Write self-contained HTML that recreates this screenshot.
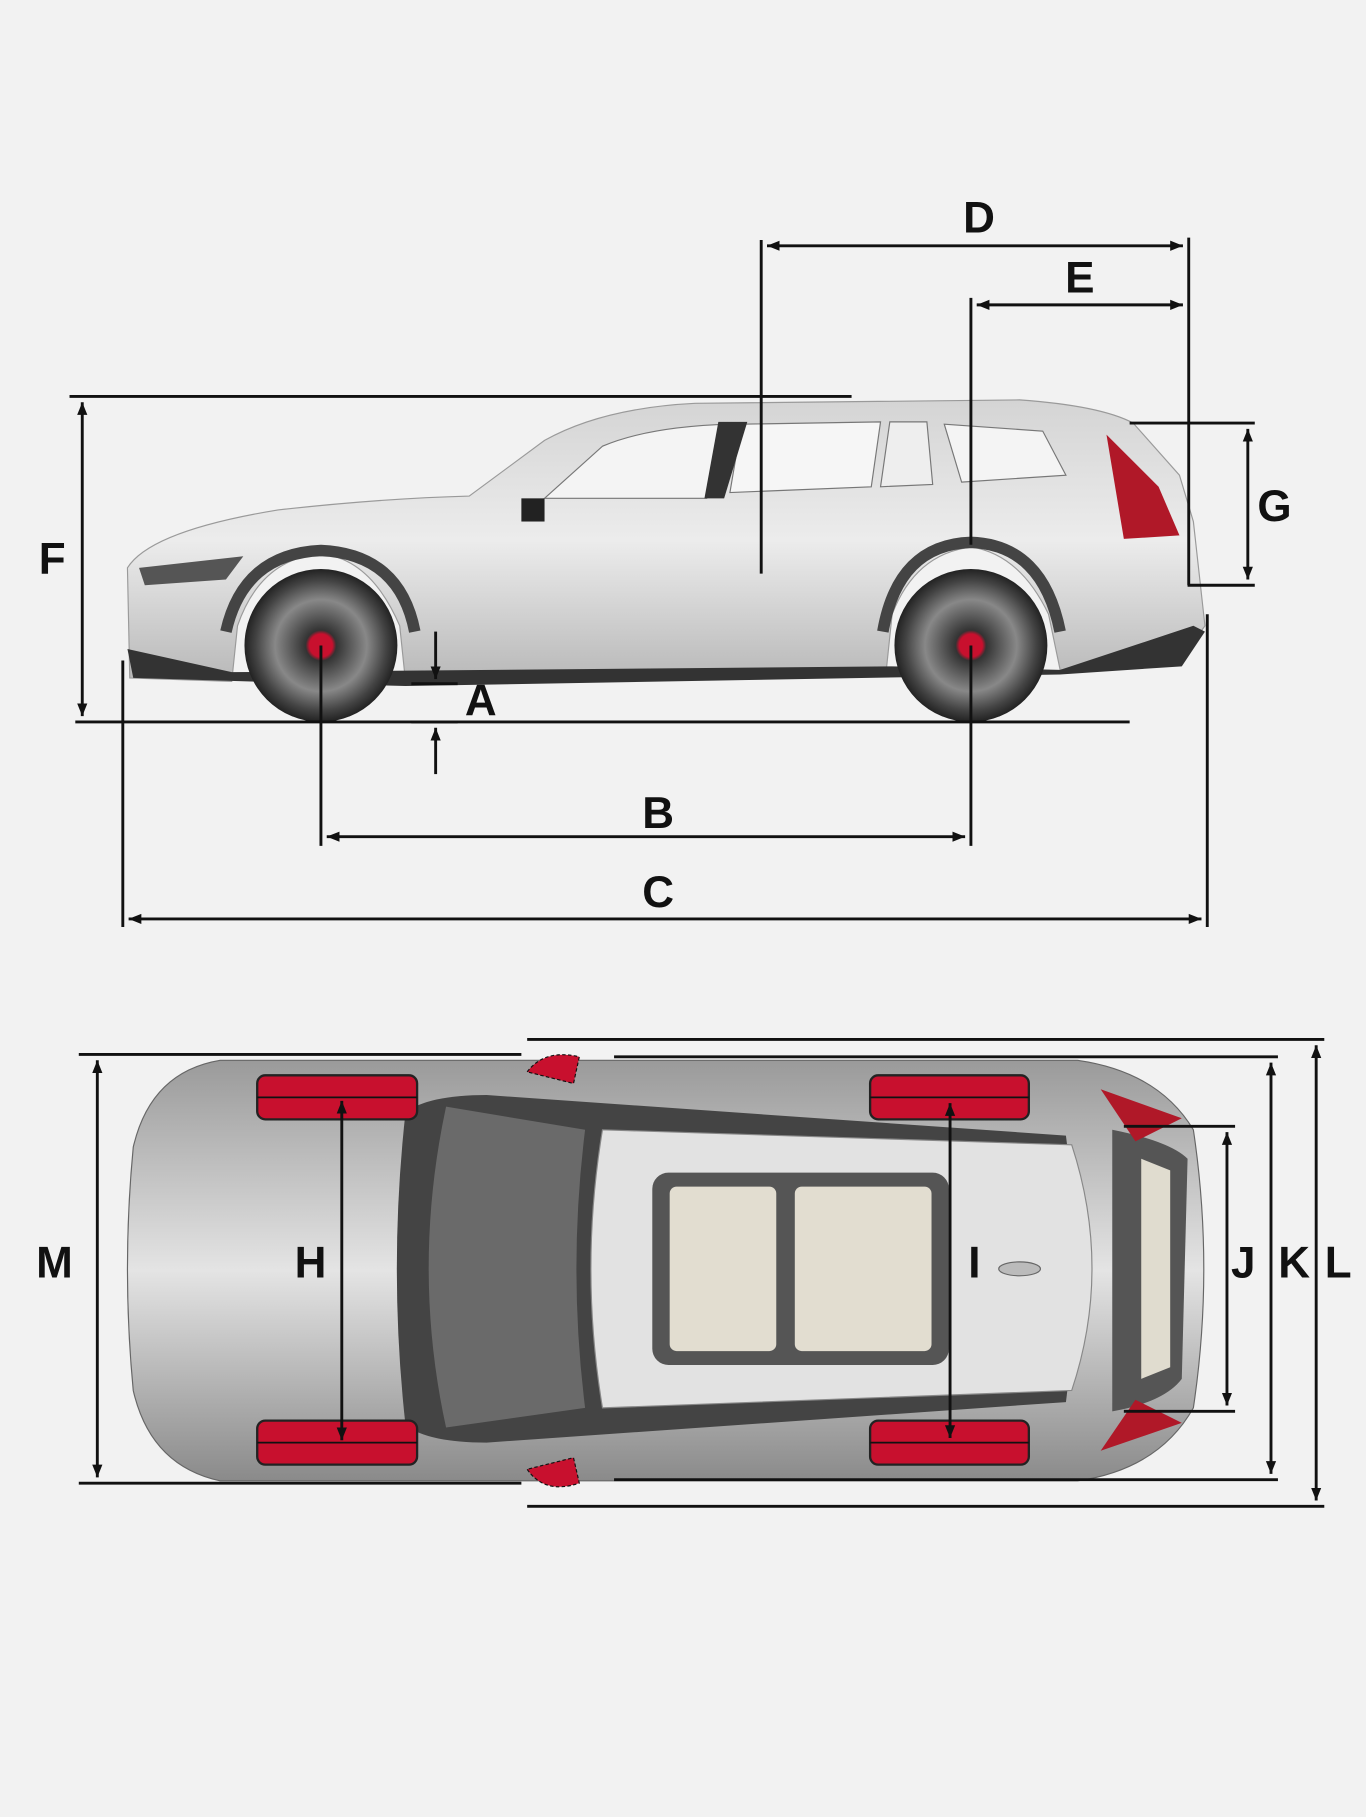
<!DOCTYPE html>
<html><head><meta charset="utf-8"><style>
html,body{margin:0;padding:0;background:#f2f2f2;}
svg{display:block;}
text{font-family:"Liberation Sans",sans-serif;font-size:38px;font-weight:bold;fill:#111;text-anchor:middle;dominant-baseline:central;}
</style></head><body>
<svg width="1366" height="1817" viewBox="0 0 1179 1568" xmlns="http://www.w3.org/2000/svg">
<defs>
<marker id="ar" viewBox="0 0 10 10" refX="10" refY="5" markerWidth="11" markerHeight="11" orient="auto-start-reverse" markerUnits="userSpaceOnUse"><path d="M0,1 L10,5 L0,9 z" fill="#111"/></marker>
<linearGradient id="body" x1="0" y1="0" x2="0" y2="1"><stop offset="0" stop-color="#d4d4d4"/><stop offset="0.5" stop-color="#ececec"/><stop offset="1" stop-color="#b8b8b8"/></linearGradient>
<linearGradient id="top" x1="0" y1="0" x2="0" y2="1"><stop offset="0" stop-color="#9a9a9a"/><stop offset="0.5" stop-color="#e4e4e4"/><stop offset="1" stop-color="#8a8a8a"/></linearGradient>
<radialGradient id="rim"><stop offset="0.15" stop-color="#c8102e"/><stop offset="0.2" stop-color="#333"/><stop offset="0.6" stop-color="#888"/><stop offset="0.85" stop-color="#444"/><stop offset="1" stop-color="#222"/></radialGradient>
</defs>
<rect width="1179" height="1568" fill="#f2f2f2"/>

<path d="M112,585 L110,490 Q130,458 240,440 Q330,430 405,428 L470,380 Q520,352 600,348 L880,345 Q950,350 978,365 L1018,410 L1030,450 L1040,540 L1020,568 L915,578 L905,530 Q880,478 838,472 Q790,478 770,530 L765,578 L350,588 L345,540 Q320,482 277,478 Q225,482 205,540 L200,588 Z" fill="url(#body)" stroke="#9a9a9a"/>
<path d="M470,430 L520,385 Q560,368 630,366 L610,430 Z" fill="#f4f4f4" stroke="#777"/>
<path d="M640,366 L760,364 L752,420 L630,425 Z" fill="#f6f6f6" stroke="#777"/>
<path d="M768,364 L800,364 L805,418 L760,420 Z" fill="#eee" stroke="#777"/>
<path d="M815,366 L900,372 L920,410 L830,416 Z" fill="#f4f4f4" stroke="#777"/>
<path d="M620,364 L645,364 L625,430 L608,430 Z" fill="#333"/>
<path d="M955,375 L1000,420 L1018,462 L970,465 Z" fill="#b01828"/>
<path d="M110,560 L200,580 L770,575 L915,578 L1030,540 L1040,545 L1020,575 L915,582 L350,592 L115,585 Z" fill="#333"/>
<path d="M195,545 Q210,478 277,475 Q345,478 358,545" fill="none" stroke="#444" stroke-width="10"/>
<path d="M762,545 Q775,470 838,468 Q900,470 915,545" fill="none" stroke="#444" stroke-width="10"/>
<circle cx="277" cy="557" r="66" fill="url(#rim)"/>
<circle cx="838" cy="557" r="66" fill="url(#rim)"/>
<circle cx="277" cy="557" r="10" fill="#c8102e"/>
<circle cx="838" cy="557" r="10" fill="#c8102e"/>
<path d="M120,490 L210,480 L195,500 L125,505 Z" fill="#555"/>
<rect x="450" y="430" width="20" height="20" fill="#222"/>

<g stroke="#111" stroke-width="2.5" fill="none">
<line x1="60" y1="342" x2="735" y2="342"/>
<line x1="65" y1="623" x2="975" y2="623"/>
<line x1="71" y1="347" x2="71" y2="618" marker-start="url(#ar)" marker-end="url(#ar)"/>
<line x1="657" y1="207" x2="657" y2="495"/>
<line x1="1026" y1="205" x2="1026" y2="505"/>
<line x1="662" y1="212" x2="1021" y2="212" marker-start="url(#ar)" marker-end="url(#ar)"/>
<line x1="838" y1="257" x2="838" y2="470"/>
<line x1="843" y1="263" x2="1021" y2="263" marker-start="url(#ar)" marker-end="url(#ar)"/>
<line x1="975" y1="365" x2="1083" y2="365"/>
<line x1="1025" y1="505" x2="1083" y2="505"/>
<line x1="1077" y1="370" x2="1077" y2="500" marker-start="url(#ar)" marker-end="url(#ar)"/>
<line x1="355" y1="590" x2="395" y2="590"/>
<line x1="355" y1="623" x2="395" y2="623"/>
<line x1="376" y1="545" x2="376" y2="586" marker-end="url(#ar)"/>
<line x1="376" y1="668" x2="376" y2="628" marker-end="url(#ar)"/>
<line x1="277" y1="557" x2="277" y2="730"/>
<line x1="838" y1="557" x2="838" y2="730"/>
<line x1="282" y1="722" x2="833" y2="722" marker-start="url(#ar)" marker-end="url(#ar)"/>
<line x1="106" y1="570" x2="106" y2="800"/>
<line x1="1042" y1="530" x2="1042" y2="800"/>
<line x1="111" y1="793" x2="1037" y2="793" marker-start="url(#ar)" marker-end="url(#ar)"/>
</g>
<text x="845" y="188">D</text><text x="932" y="240">E</text><text x="1100" y="437">G</text>
<text x="45" y="483">F</text><text x="415" y="605">A</text><text x="568" y="702">B</text><text x="568" y="770">C</text>

<path d="M190,915 L930,915 Q1000,925 1030,975 Q1048,1095 1030,1215 Q1000,1268 930,1278 L190,1278 Q130,1265 115,1200 Q105,1095 115,990 Q130,925 190,915 Z" fill="url(#top)" stroke="#666"/>
<path d="M350,960 Q370,945 420,945 L920,980 Q935,1095 920,1210 L420,1245 Q370,1245 350,1230 Q335,1095 350,960 Z" fill="#444"/>
<path d="M520,975 L925,988 Q960,1095 925,1200 L520,1215 Q500,1095 520,975 Z" fill="#e2e2e2" stroke="#888"/>
<path d="M385,955 L505,975 Q490,1095 505,1215 L385,1232 Q355,1095 385,955 Z" fill="#6a6a6a"/>
<rect x="563" y="1012" width="256" height="166" rx="14" fill="#555"/>
<rect x="578" y="1024" width="92" height="142" rx="6" fill="#e2ddd0"/>
<rect x="686" y="1024" width="118" height="142" rx="6" fill="#e2ddd0"/>
<path d="M960,975 Q1010,985 1025,1000 L1020,1190 Q1005,1210 960,1218 Z" fill="#555"/>
<path d="M985,1000 L1010,1010 L1010,1180 L985,1190 Z" fill="#e0dccf"/>
<path d="M950,940 L1020,965 L980,985 Z" fill="#b01828"/>
<path d="M950,1252 L1020,1228 L980,1208 Z" fill="#b01828"/>
<path d="M455,925 Q470,905 500,912 L495,935 Z" fill="#c8102e" stroke="#111" stroke-dasharray="3,2"/>
<path d="M455,1268 Q470,1290 500,1280 L495,1258 Z" fill="#c8102e" stroke="#111" stroke-dasharray="3,2"/>
<g fill="#c8102e" stroke="#222" stroke-width="2">
<rect x="222" y="928" width="138" height="38" rx="7"/>
<rect x="222" y="1226" width="138" height="38" rx="7"/>
<rect x="751" y="928" width="137" height="38" rx="7"/>
<rect x="751" y="1226" width="137" height="38" rx="7"/>
</g>
<g stroke="#111" stroke-width="1.5"><line x1="222" y1="947" x2="360" y2="947"/><line x1="222" y1="1245" x2="360" y2="1245"/><line x1="751" y1="947" x2="888" y2="947"/><line x1="751" y1="1245" x2="888" y2="1245"/></g>
<ellipse cx="880" cy="1095" rx="18" ry="6" fill="#bbb" stroke="#666"/>

<g stroke="#111" stroke-width="2.5" fill="none">
<line x1="68" y1="910" x2="450" y2="910"/>
<line x1="68" y1="1280" x2="450" y2="1280"/>
<line x1="84" y1="915" x2="84" y2="1275" marker-start="url(#ar)" marker-end="url(#ar)"/>
<line x1="530" y1="912" x2="1103" y2="912"/>
<line x1="530" y1="1277" x2="1103" y2="1277"/>
<line x1="1097" y1="917" x2="1097" y2="1272" marker-start="url(#ar)" marker-end="url(#ar)"/>
<line x1="455" y1="897" x2="1143" y2="897"/>
<line x1="455" y1="1300" x2="1143" y2="1300"/>
<line x1="1136" y1="902" x2="1136" y2="1295" marker-start="url(#ar)" marker-end="url(#ar)"/>
<line x1="970" y1="972" x2="1066" y2="972"/>
<line x1="970" y1="1218" x2="1066" y2="1218"/>
<line x1="1059" y1="977" x2="1059" y2="1213" marker-start="url(#ar)" marker-end="url(#ar)"/>
<line x1="295" y1="950" x2="295" y2="1243" marker-start="url(#ar)" marker-end="url(#ar)"/>
<line x1="820" y1="952" x2="820" y2="1241" marker-start="url(#ar)" marker-end="url(#ar)"/>
</g>
<text x="47" y="1090">M</text><text x="268" y="1090">H</text><text x="841" y="1090">I</text>
<text x="1073" y="1090">J</text><text x="1117" y="1090">K</text><text x="1155" y="1090">L</text>
</svg>
</body></html>
